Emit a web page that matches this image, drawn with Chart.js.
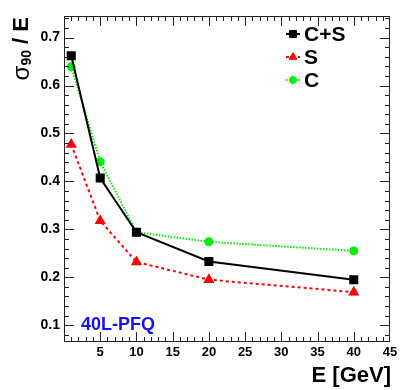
<!DOCTYPE html>
<html>
<head>
<meta charset="utf-8">
<script src="https://cdn.jsdelivr.net/npm/chart.js@4/dist/chart.umd.min.js"></script>
<style>
  html, body { margin: 0; padding: 0; background: #fff; }
  #wrap { width: 407px; height: 390px; }
</style>
</head>
<body>
<div id="wrap"><canvas id="resChart" width="407" height="390"></canvas></div>
<script>
// energies (GeV) and sigma90/E for each reconstruction
var energies = [1, 5, 10, 20, 40];
var sumVals = [0.662, 0.407, 0.294, 0.233, 0.195];
var sVals = [0.477, 0.318, 0.232, 0.195, 0.169];
var cVals = [0.639, 0.441, 0.294, 0.274, 0.255];
var yTickVals = [0.1, 0.2, 0.3, 0.4, 0.5, 0.6, 0.7];
var seriesNames = ['C+S', 'S', 'C'];

function toXY(vals) {
    return energies.map(function (e, i) { return { x: e, y: vals[i] }; });
}

var FONT = '"Liberation Sans", Arial, sans-serif';

// ROOT-like frame with inside ticks on all sides, titles, legend and label
var rootFrame = {
    id: 'rootFrame',
    afterDraw: function (chart) {
        var c = chart.ctx, a = chart.chartArea;
        var xs = chart.scales.x, ys = chart.scales.y;
        c.save();
        c.strokeStyle = '#222';
        c.lineWidth = 1;
        c.strokeRect(a.left + 0.5, a.top + 0.5, a.right - a.left - 1, a.bottom - a.top - 1);
        c.beginPath();
        // x ticks every 1, major every 5
        for (var v = 1; v < 45; v++) {
            var px = Math.round(xs.getPixelForValue(v)) + 0.5;
            var len = (v % 5 === 0) ? 10 : 5;
            c.moveTo(px, a.bottom); c.lineTo(px, a.bottom - len);
            c.moveTo(px, a.top); c.lineTo(px, a.top + len);
        }
        // y ticks every 0.02, major every 0.1
        for (var k = 4; k <= 74; k += 2) {
            var py = Math.round(ys.getPixelForValue(k / 100)) + 0.5;
            if (py < a.top + 1 || py > a.bottom - 1) continue;
            var l2 = (k % 10 === 0) ? 10 : 5;
            c.moveTo(a.left, py); c.lineTo(a.left + l2, py);
            c.moveTo(a.right, py); c.lineTo(a.right - l2, py);
        }
        c.stroke();

        // x title
        c.fillStyle = '#000';
        c.font = 'bold 22px ' + FONT;
        c.textAlign = 'right';
        c.textBaseline = 'middle';
        c.fillText('E [GeV]', a.right + 1, 376);

        // y title, rotated, aligned to the top
        c.translate(22, 17);
        c.rotate(-Math.PI / 2);
        var parts = [
            { t: '\u03c3', f: '24px ' + FONT, dy: 0 },
            { t: '90', f: 'bold 14px ' + FONT, dy: 5 },
            { t: ' / E', f: 'bold 22px ' + FONT, dy: 0 }
        ];
        var total = 0;
        parts.forEach(function (p) { c.font = p.f; p.w = c.measureText(p.t).width; total += p.w; });
        var x0 = -total;
        c.textAlign = 'left';
        parts.forEach(function (p) { c.font = p.f; c.fillText(p.t, x0, p.dy); x0 += p.w; });
        c.setTransform(1, 0, 0, 1, 0, 0);

        // legend
        var ds = chart.data.datasets;
        var ly = [34, 57, 80];
        c.font = 'bold 21px ' + FONT;
        c.textAlign = 'left';
        c.textBaseline = 'middle';
        ds.forEach(function (d, i) {
            c.save();
            c.strokeStyle = d.borderColor;
            c.lineWidth = 2;
            c.setLineDash(d.borderDash || []);
            c.beginPath();
            c.moveTo(286, ly[i]); c.lineTo(300, ly[i]);
            c.stroke();
            c.restore();
            c.fillStyle = d.pointBackgroundColor;
            c.strokeStyle = d.pointBackgroundColor;
            Chart.helpers.drawPoint(c, {
                pointStyle: d.pointStyle, radius: d.pointRadius, borderWidth: 1
            }, 293, ly[i]);
            c.fillStyle = '#000';
            c.fillText(d.label, 304, ly[i] + 1);
        });

        // detector label
        c.fillStyle = '#1010ff';
        c.font = 'bold 18px ' + FONT;
        c.textAlign = 'left';
        c.fillText('40L-PFQ', 81, 325);
        c.restore();
    }
};

var ctx = document.getElementById('resChart').getContext('2d');
var resChart = new Chart(ctx, {
    type: 'line',
    data: {
        datasets: [{
            label: seriesNames[0],
            data: toXY(sumVals),
            borderColor: '#000000',
            borderWidth: 2,
            pointStyle: 'rect',
            pointRadius: 5,
            pointBackgroundColor: '#000000',
            pointBorderColor: '#000000'
        }, {
            label: seriesNames[1],
            data: toXY(sVals),
            borderColor: '#ff0000',
            borderWidth: 2,
            borderDash: [3, 3],
            pointStyle: 'triangle',
            pointRadius: 4.5,
            pointBackgroundColor: '#ff0000',
            pointBorderColor: '#ff0000'
        }, {
            label: seriesNames[2],
            data: toXY(cVals),
            borderColor: '#00ee00',
            borderWidth: 2,
            borderDash: [1.5, 1.5],
            pointStyle: 'circle',
            pointRadius: 3.5,
            pointBackgroundColor: '#00ee00',
            pointBorderColor: '#00ee00'
        }]
    },
    options: {
        responsive: false,
        animation: false,
        layout: { padding: { top: 16, right: 17, left: 0, bottom: 0 } },
        plugins: { legend: { display: false }, tooltip: { enabled: false } },
        elements: { line: { tension: 0 } },
        scales: {
            x: {
                type: 'linear',
                min: 0,
                max: 45,
                grid: { display: false, drawTicks: false },
                border: { display: false },
                ticks: {
                    stepSize: 5,
                    padding: 3,
                    color: '#000',
                    font: { family: FONT, size: 13, weight: 'bold' },
                    maxRotation: 0,
                    callback: function (v) { return v === 0 ? '' : v; }
                },
                afterFit: function (s) { s.height = 48; }
            },
            y: {
                type: 'linear',
                min: 0.065,
                max: 0.745,
                grid: { display: false, drawTicks: false },
                border: { display: false },
                afterBuildTicks: function (s) {
                    s.ticks = yTickVals.map(function (v) { return { value: v }; });
                },
                ticks: {
                    padding: 4,
                    color: '#000',
                    font: { family: FONT, size: 14, weight: 'bold' },
                    callback: function (v) { return v.toFixed(1); }
                },
                afterFit: function (s) { s.width = 64; }
            }
        }
    },
    plugins: [rootFrame]
});
</script>
</body>
</html>
